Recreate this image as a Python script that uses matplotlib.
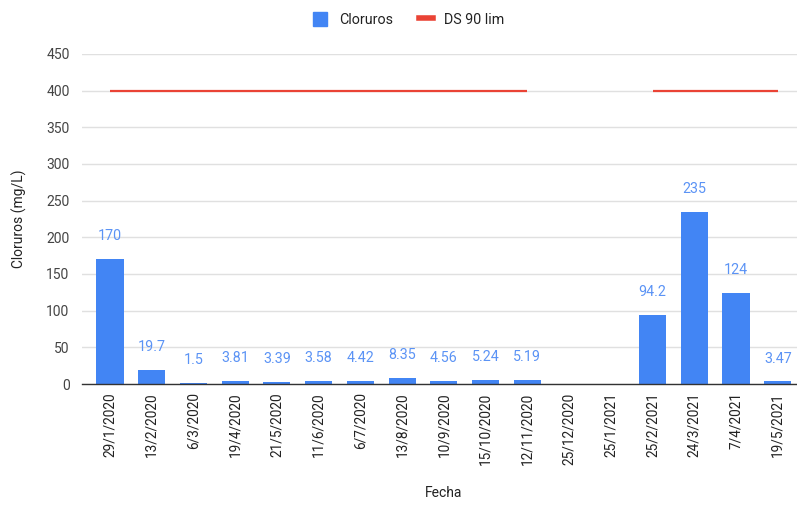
import numpy as np
import matplotlib
matplotlib.use("Agg")
import matplotlib.pyplot as plt
from matplotlib.patches import Patch
from matplotlib.lines import Line2D

fechas = ["29/1/2020", "13/2/2020", "6/3/2020", "19/4/2020", "21/5/2020",
          "11/6/2020", "6/7/2020", "13/8/2020", "10/9/2020", "15/10/2020",
          "12/11/2020", "25/12/2020", "25/1/2021", "25/2/2021", "24/3/2021",
          "7/4/2021", "19/5/2021"]
cloruros = [170, 19.7, 1.5, 3.81, 3.39, 3.58, 4.42, 8.35, 4.56, 5.24, 5.19,
            None, None, 94.2, 235, 124, 3.47]
ds90_lim = [400, 400, 400, 400, 400, 400, 400, 400, 400, 400, 400,
            None, None, 400, 400, 400, 400]
labels = ["170", "19.7", "1.5", "3.81", "3.39", "3.58", "4.42", "8.35", "4.56",
          "5.24", "5.19", "", "", "94.2", "235", "124", "3.47"]

plt.rcParams['font.family'] = ['Roboto', 'DejaVu Sans']
BLUE = "#4285F4"
RED = "#EA4335"
TXT = "#444444"

fig = plt.figure(figsize=(7.97, 5.05), dpi=100)
ax = fig.add_axes([0.1029, 0.2396, 0.8971, 0.6535])

x = np.arange(len(fechas))
vals = np.array([np.nan if v is None else v for v in cloruros], dtype=float)
lim = np.array([np.nan if v is None else v for v in ds90_lim], dtype=float)

ax.bar(x, np.nan_to_num(vals), width=0.65, color=BLUE, zorder=3)
ax.plot(x, lim, color=RED, lw=1.6, zorder=4, solid_capstyle='butt')

for xi, v, lab in zip(x, vals, labels):
    if np.isnan(v):
        continue
    ax.annotate(lab, (xi, v), xytext=(0, 16.5), textcoords="offset points",
                ha="center", va="center", color="#5b93f5", fontsize=10.3)

ax.set_xlim(-0.67, 16.46)
ax.set_ylim(0, 450)
ax.set_yticks(np.arange(0, 451, 50))
ax.set_xticks(x)
ax.set_xticklabels(fechas, rotation=90, fontsize=9.8, color="#222222")
ax.tick_params(axis='y', labelsize=10, labelcolor=TXT, length=0, pad=9)
ax.tick_params(axis='x', length=0, pad=6)
ax.grid(axis='y', color="#e0e0e0", lw=1, zorder=0)
for s in ["top", "right", "left"]:
    ax.spines[s].set_visible(False)
ax.spines["bottom"].set_color("#333333")
ax.spines["bottom"].set_linewidth(1)
ax.spines["bottom"].set_zorder(5)

ax.set_ylabel("Cloruros (mg/L)", fontsize=10, color="#222222", labelpad=14)
fig.text(0.556, 0.010, "Fecha", ha="center", va="bottom", fontsize=10, color="#222222")

handles = [Patch(facecolor=BLUE, edgecolor=BLUE),
           Line2D([0], [0], color=RED, lw=4)]
fig.legend(handles, ["Cloruros", "DS 90 lim"], loc="center", bbox_to_anchor=(0.513, 0.962),
           ncol=2, frameon=False, fontsize=10.3, handlelength=1.0, handleheight=1.1,
           columnspacing=1.8, handletextpad=0.8, labelcolor="#222222")

fig.savefig("out.png", dpi=100)
